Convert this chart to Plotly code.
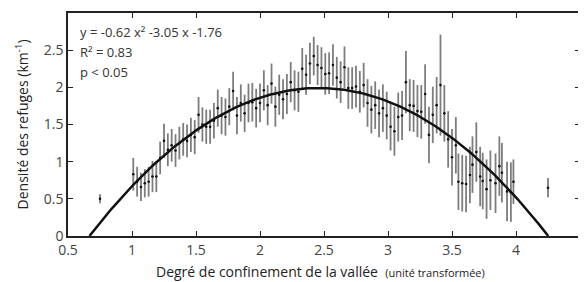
import numpy as np
import plotly.graph_objects as go

# Data
x_vals = [0.75,
          1.01, 1.04, 1.07, 1.10, 1.13, 1.16, 1.19, 1.22, 1.25, 1.28,
          1.31, 1.34, 1.37, 1.40, 1.43, 1.46, 1.49, 1.52, 1.55, 1.58,
          1.61, 1.64, 1.67, 1.70, 1.73, 1.76, 1.79, 1.82, 1.85, 1.88,
          1.91, 1.94, 1.97, 2.00, 2.03, 2.06, 2.09, 2.12, 2.15, 2.18,
          2.21, 2.24, 2.27, 2.30, 2.33, 2.36, 2.39, 2.42, 2.45, 2.48,
          2.51, 2.54, 2.57, 2.60, 2.63, 2.66, 2.69, 2.72, 2.75, 2.78,
          2.81, 2.84, 2.87, 2.90, 2.93, 2.96, 2.99, 3.02, 3.05, 3.08,
          3.11, 3.14, 3.17, 3.20, 3.23, 3.26, 3.29, 3.32, 3.35, 3.38,
          3.41, 3.44, 3.47, 3.50, 3.53, 3.55, 3.58, 3.61, 3.64, 3.66,
          3.69, 3.72, 3.74, 3.77, 3.80, 3.84, 3.87, 3.89, 3.93, 3.96,
          3.98,
          4.25]
y_vals = [0.50,
          0.83, 0.73, 0.66, 0.71, 0.73, 0.80, 0.80, 1.05, 1.28, 1.16,
          1.22, 1.15, 1.25, 1.30, 1.28, 1.36, 1.33, 1.63, 1.50, 1.47,
          1.47, 1.55, 1.72, 1.62, 1.60, 1.74, 1.95, 1.62, 1.79, 1.65,
          1.79, 1.80, 1.72, 1.79, 1.96, 1.76, 2.05, 1.74, 1.90, 1.84,
          1.91, 2.07, 1.96, 1.94, 2.25, 2.17, 2.32, 2.42, 2.30, 2.26,
          2.18, 2.19, 2.30, 2.13, 2.07, 2.27, 1.99, 1.99, 2.01, 1.94,
          2.03, 1.79, 1.70, 1.76, 1.65, 1.72, 1.62, 1.47, 1.41, 1.60,
          1.62, 2.07, 1.76, 1.75, 1.68, 1.67, 1.91, 1.36, 1.63, 1.76,
          2.03, 1.65, 1.30, 1.06, 1.22, 0.73, 0.71, 0.70, 0.82, 0.96,
          1.13, 0.80, 0.74, 0.63, 0.75, 0.71, 0.94, 0.85, 0.60, 0.59,
          0.73,
          0.65]
err_vals = [0.06,
            0.22, 0.20, 0.19, 0.19, 0.20, 0.21, 0.21, 0.22, 0.23, 0.22,
            0.22, 0.22, 0.22, 0.22, 0.22, 0.23, 0.23, 0.24, 0.23, 0.23,
            0.23, 0.24, 0.25, 0.25, 0.25, 0.25, 0.26, 0.25, 0.25, 0.25,
            0.26, 0.26, 0.26, 0.26, 0.27, 0.27, 0.27, 0.27, 0.27, 0.27,
            0.27, 0.27, 0.27, 0.27, 0.28, 0.27, 0.28, 0.26, 0.27, 0.28,
            0.28, 0.28, 0.28, 0.28, 0.28, 0.28, 0.28, 0.28, 0.28, 0.28,
            0.30, 0.32, 0.32, 0.32, 0.32, 0.32, 0.32, 0.32, 0.33, 0.33,
            0.33, 0.42, 0.35, 0.35, 0.35, 0.36, 0.40, 0.38, 0.38, 0.38,
            0.68, 0.38, 0.38, 0.38, 0.38, 0.38, 0.38, 0.38, 0.38, 0.38,
            0.40, 0.40, 0.38, 0.40, 0.40, 0.40, 0.40, 0.40, 0.40, 0.40,
            0.30,
            0.13]

# Fitted polynomial coefficients (a x^2 + b x + c) drawn in the reference
fit_a, fit_b, fit_c = -0.62, 3.05, -1.76

x_ticks = [0.5, 1, 1.5, 2, 2.5, 3, 3.5, 4, 4.5]
y_ticks = [0, 0.5, 1, 1.5, 2, 2.5, 3]

roots = np.sort(np.roots([fit_a, fit_b, fit_c]).real)
xc = np.linspace(roots[0], roots[1], 300)
yc = fit_a * xc**2 + fit_b * xc + fit_c

fig = go.Figure()
fig.add_trace(go.Scatter(
    x=x_vals, y=y_vals, mode="markers",
    marker=dict(color="#111111", size=2.6),
    error_y=dict(type="data", array=err_vals, color="#7d7d7d",
                 thickness=1.8, width=0),
    showlegend=False, hoverinfo="skip"))
fig.add_trace(go.Scatter(
    x=xc, y=yc, mode="lines", line=dict(color="#111111", width=2.5),
    showlegend=False, hoverinfo="skip"))

font_family = "Open Sans, DejaVu Sans, sans-serif"
ann_lines = ["y = -0.62 x² -3.05 x -1.76", "R² = 0.83", "p < 0.05"]
ann_y = [2.74, 2.48, 2.21]
for t, yy in zip(ann_lines, ann_y):
    fig.add_annotation(x=0.58, y=yy, xref="x", yref="y", text=t,
                       showarrow=False, xanchor="left", yanchor="middle",
                       font=dict(size=13, color="#333333", family=font_family))

# Axis titles as annotations for exact placement
fig.add_annotation(x=0.494, y=-0.157, xref="paper", yref="paper",
                   text="Degré de confinement de la vallée  "
                        "<span style='font-size:11px'>(unité transformée)</span>",
                   showarrow=False, xanchor="center", yanchor="middle",
                   font=dict(size=14, color="#222222", family=font_family))
fig.add_annotation(x=-0.09, y=0.5, xref="paper", yref="paper",
                   text="Densité des refuges (km<sup>-1</sup>)", textangle=-90,
                   showarrow=False, xanchor="center", yanchor="middle",
                   font=dict(size=14, color="#222222", family=font_family))

axis_common = dict(showline=True, linecolor="#222222", linewidth=1.5,
                   mirror="ticks", ticks="inside", ticklen=5,
                   tickcolor="#222222", tickwidth=1.2, showgrid=False,
                   zeroline=False, automargin=False,
                   tickfont=dict(size=14, color="#444444", family=font_family))

# The page body has an 8px default margin; compensate so the plot sits
# at the same place as in the reference window.
fig.update_layout(
    width=578, height=274,
    margin=dict(l=60, r=6, t=5, b=46),
    paper_bgcolor="white", plot_bgcolor="white",
    font=dict(family=font_family, color="#333333"),
    xaxis=dict(range=[0.5, 4.5], tickvals=x_ticks,
               ticktext=[f"{v:g}" for v in x_ticks], **axis_common),
    yaxis=dict(range=[0, 3], tickvals=y_ticks,
               ticktext=[f"{v:g}" for v in y_ticks], **axis_common),
)

fig.write_html("out.html")
